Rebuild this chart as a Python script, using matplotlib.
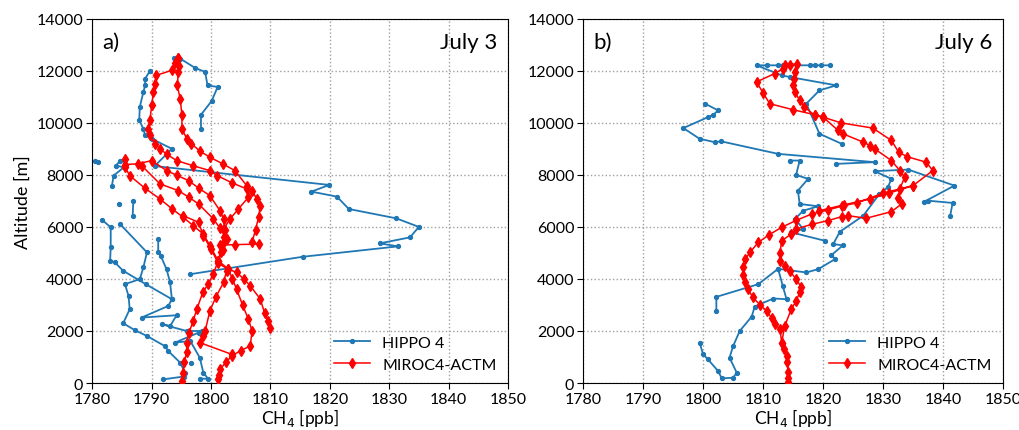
import numpy as np
import matplotlib
matplotlib.use("Agg")
import matplotlib.pyplot as plt

plt.rcParams['font.family'] = ['Lato', 'DejaVu Sans']

nan = np.nan

# ---- July 3 : HIPPO 4 (CH4 ppb, altitude m), segments split by nan
hippo_jul3_ch4 = [
    1793.8, 1794.8, 1797.3, 1799.0, 1799.4, 1801.1, 1800.1, 1798.3, 1798.3, nan,
    1789.7, 1788.9, 1788.9, 1788.6, 1788.0, 1787.9, 1788.6, 1788.9, 1790.0, 1793.4,
    1790.5, 1819.9, 1816.9, 1821.2, 1823.2, 1831.2, 1835.0, 1833.5, 1828.4, 1831.5,
    1815.4, 1796.5, nan,
    1780.4, 1781.0, nan,
    1785.5, 1784.7, 1784.0, 1785.3, 1783.6, 1783.3, nan,
    1786.9, 1786.8, nan,
    1784.5, nan,
    1781.6, 1783.1, 1783.1, 1783.0, 1783.8, 1785.2, 1789.0, 1793.4, 1792.8, 1788.3,
    1794.2, 1793.1, 1791.7, 1795.9, 1798.4, 1797.9, 1793.9, 1796.5, 1798.1, 1798.7,
    1799.5, 1798.1, nan,
    1784.7, 1789.2, 1788.6, 1788.0, 1785.5, 1786.1, 1786.3, 1785.2, 1787.2, 1789.2,
    1792.2, 1792.8, 1794.8, 1795.6, 1795.4, 1791.9, nan,
    1791.1, 1791.1, 1791.5, 1792.5, 1793.1, 1793.4, nan,
    1796.7,
]
hippo_jul3_alt = [
    12500, 12472, 12113, 11959, 11443, 11380, 10841, 10313, 9774, nan,
    11998, 11701, 11443, 11190, 10610, 10094, 9774, 9516, 9390, 9003,
    8340, 7615, 7357, 7165, 6690, 6330, 6000, 5600, 5368, 5253,
    4852, 4184, nan,
    8520, 8510, nan,
    8590, 8552, 8360, 8290, 7974, 7589, nan,
    7010, 6432, nan,
    6883, nan,
    6279, 5985, 5214, 4699, 4636, 4313, 3800, 3222, 2964, 2516,
    2605, 2193, 2258, 2000, 2000, 1936, 1553, 1615, 975, 397,
    166, 166, nan,
    6104, 5022, 4444, 3993, 3800, 3349, 2837, 2297, 2027, 1808,
    1422, 1229, 782, 397, 250, 139, nan,
    5534, 5022, 4900, 4378, 3865, 3222, nan,
    782,
]

# ---- July 3 : MIROC4-ACTM
miroc_jul3_ch4 = [
    1794.5, 1794.6, 1794.5, 1794.3, 1794.8, 1795.1, 1795.1, 1795.9, 1796.7, 1798.2,
    1799.8, 1802.0, 1804.0, 1806.0, 1806.9, 1807.7, 1808.3, 1808.0, 1807.5, 1806.9,
    1808.0, 1804.0, 1801.5, nan,
    1794.5, 1793.9, 1793.4, 1790.8, 1790.5, 1790.3, 1790.0, 1789.7, 1789.4, 1789.7,
    1790.6, 1791.4, 1792.5, 1794.2, 1797.0, 1799.8, 1801.0, 1803.5, 1806.0, 1806.3,
    1804.6, 1803.2, 1802.1, 1802.2, 1802.1, 1801.6, 1801.2, 1800.4, 1799.5, 1798.6,
    1797.6, 1797.0, 1796.3, 1795.9, 1795.9, 1795.5, 1795.3, 1795.1, nan,
    1785.5, 1785.5, 1787.7, 1790.0, 1792.5, 1794.3, 1796.2, 1798.0, 1799.8, 1801.5,
    1802.1, 1802.3, nan,
    1788.3, 1791.4, 1794.5, 1796.2, 1797.9, 1800.4, 1801.5, 1802.6, 1802.0, 1801.2,
    1802.9, 1804.3, 1805.5, 1806.6, 1808.3, 1809.0, 1809.6, 1810.0, nan,
    1785.5, 1786.3, 1788.8, 1791.4, 1793.4, 1795.3, 1797.0, 1798.7, 1799.8, 1801.2,
    nan,
    1801.2, 1801.3, 1801.5, 1802.5, 1803.5, 1805.0, 1806.6, 1806.9, 1806.3, 1805.3,
    1804.3, 1803.6, 1802.9, 1801.2, 1800.0, 1798.7, 1797.9, 1795.3, nan,
    1803.5, 1798.1, 1798.6, 1799.0, 1799.8, 1800.8, 1802.1, 1802.6,
]
miroc_jul3_alt = [
    12500, 12200, 11950, 11443, 10930, 10287, 9774, 9390, 9196, 8900,
    8682, 8420, 8167, 7589, 7396, 7075, 6818, 6371, 5900, 5407,
    5342, 5320, 5300, nan,
    12500, 12300, 12020, 11830, 11500, 11190, 10672, 10094, 9774, 9516,
    9196, 9003, 8800, 8552, 8350, 8167, 7974, 7700, 7460, 7142,
    6690, 6306, 5920, 5600, 5407, 5050, 4700, 4200, 3800, 3480,
    2837, 2400, 1938, 1553, 1200, 800, 400, 73, nan,
    8600, 8400, 8425, 8552, 8167, 7980, 7781, 7480, 7203, 6625,
    6306, 5900, nan,
    8360, 7654, 7396, 7150, 6883, 6306, 5950, 5534, 5100, 4700,
    4380, 4250, 4000, 3736, 3222, 2700, 2400, 2129, nan,
    8300, 7974, 7500, 7075, 6700, 6371, 6048, 5727, 5280, 4700,
    nan,
    140, 320, 520, 800, 1040, 1250, 1422, 2000, 2451, 3000,
    3607, 4000, 4378, 4600, 5150, 5661, 6178, 6432, nan,
    1102, 1553, 1800, 2000, 2771, 3300, 3865, 4300,
]

# ---- July 6 : HIPPO 4
hippo_jul6_ch4 = [
    1799.4, 1800.0, 1800.8, 1802.5, 1803.1, 1805.0, 1805.6, 1804.4, 1805.0, 1806.1,
    1808.1, 1808.6, 1811.7, 1813.9, 1813.3, 1812.5, 1809.2, 1802.2, 1802.2, nan,
    1812.5, 1817.2, 1819.2, 1822.0, 1821.4, 1823.3, 1821.7, 1822.8, 1826.7, 1829.4,
    1830.8, 1831.4, 1828.6, 1834.2, 1841.9, 1836.9, 1837.5, 1841.6, 1841.2, nan,
    1822.2, 1828.6, 1812.5, 1803.0, 1801.9, 1799.4, 1796.7, 1800.8, 1801.7, 1802.5,
    1800.3, nan,
    1820.3, 1814.7, 1816.7, 1815.3, 1816.7, 1819.2, 1816.1, 1815.8, 1817.5, 1815.5,
    1816.1, 1814.4, nan,
    1823.1, 1819.4, 1817.2, 1819.4, 1822.2, 1814.4, 1813.1, 1808.9, 1810.6, 1812.5,
    1813.3, 1814.2, 1815.6, 1817.8, 1818.6, 1819.7, 1821.1,
]
hippo_jul6_alt = [
    1553, 1102, 909, 459, 177, 204, 397, 975, 1422, 2000,
    2555, 2941, 3249, 3222, 3711, 4390, 3800, 3311, 2771, nan,
    4390, 4250, 4378, 4764, 4918, 5290, 5342, 5816, 6432, 7268,
    7527, 7847, 8143, 8205, 7589, 6973, 7010, 6922, 6432, nan,
    8425, 8490, 8809, 9290, 9260, 9390, 9800, 10220, 10313, 10480,
    10740, nan,
    5469, 5792, 5920, 6305, 6625, 6794, 6883, 7395, 7847, 8000,
    8552, 8552, nan,
    9196, 9581, 10737, 11250, 11443, 11764, 11828, 12213, 12213, 12213,
    12213, 12213, 12213, 12213, 12213, 12213, 12213,
]

# ---- July 6 : MIROC4-ACTM
miroc_jul6_ch4 = [
    1814.2, 1814.2, 1814.2, 1814.0, 1813.9, 1813.4, 1813.1, 1812.8, 1812.0, 1811.4,
    1810.6, 1809.5, 1808.3, 1807.5, 1806.9, 1806.6, 1806.6, 1807.0, 1807.8, 1809.2,
    1811.0, 1813.1, 1815.5, 1818.1, 1820.8, 1823.1, 1825.6, 1830.0, 1835.0, 1838.3,
    1837.2, 1834.0, 1832.6, 1831.4, 1828.3, 1823.0, 1820.0, 1818.6, 1816.9, 1816.1,
    1815.3, 1815.0, 1815.1, 1815.3, 1815.6, 1814.5, 1813.6, 1813.3, 1811.9, 1808.9,
    1810.0, 1811.1, 1815.0, 1818.6, 1820.0, 1822.5, 1823.3, 1826.7, 1827.8, 1828.6,
    1831.4, 1832.8, 1833.6, 1832.8, 1832.5, 1833.1, 1831.4, 1827.2, 1824.2, 1823.1,
    1820.8, 1818.1, 1815.5, 1814.7, 1813.1, 1812.8, 1812.8, 1813.6, 1814.4, 1815.5,
    1816.4, 1816.1, 1815.5, 1814.7, 1813.6, 1813.1, nan,
    1819.4, 1823.5, 1827.8, 1831.0, 1835.0,
]
miroc_jul6_alt = [
    50, 200, 410, 800, 1040, 1300, 1553, 2070, 2258, 2500,
    2771, 3000, 3288, 3600, 3865, 4150, 4444, 4750, 5022, 5407,
    5700, 5985, 6250, 6498, 6650, 6800, 6922, 7300, 7589, 8167,
    8490, 8700, 8876, 9323, 9800, 10000, 10220, 10290, 10608, 10865,
    11186, 11443, 11700, 11958, 12278, 12240, 12213, 12085, 11893, 11574,
    11150, 10737, 10506, 10313, 10224, 9709, 9581, 9260, 9130, 9003,
    8552, 8167, 7911, 7461, 7100, 6883, 6588, 6333, 6432, 6395,
    6241, 6100, 5920, 5727, 5469, 5000, 4699, 4506, 4313, 4000,
    3673, 3480, 3150, 2837, 2193, 1553, nan,
    6626, 6850, 7075, 7300, 7589,
]

panels = [
    ("a)", "July 3", hippo_jul3_ch4, hippo_jul3_alt, miroc_jul3_ch4, miroc_jul3_alt),
    ("b)", "July 6", hippo_jul6_ch4, hippo_jul6_alt, miroc_jul6_ch4, miroc_jul6_alt),
]

fig = plt.figure(figsize=(10.2, 4.31), dpi=100)
positions = [[0.0905, 0.109, 0.4075, 0.845], [0.5718, 0.109, 0.4115, 0.845]]

for i, (tag, date, hx, hy, mx, my) in enumerate(panels):
    ax = fig.add_axes(positions[i])
    ax.plot(hx, hy, color="#1f77b4", linewidth=1.3, marker="o", markersize=2.8,
            label="HIPPO 4", zorder=2)
    ax.plot(mx, my, color="red", linewidth=1.1, marker="d", markersize=5.5,
            label="MIROC4-ACTM", zorder=3)
    ax.set_xlim(1780, 1850)
    ax.set_ylim(0, 14000)
    ax.set_xticks(np.arange(1780, 1851, 10))
    ax.set_yticks(np.arange(0, 14001, 2000))
    ax.grid(True, linestyle=":", color="#a0a0a0", linewidth=1.0)
    ax.set_axisbelow(True)
    ax.tick_params(labelsize=11.5, direction="out", length=4, pad=2.5)
    ax.set_xlabel("CH$_4$ [ppb]", fontsize=12.5, labelpad=0)
    if i == 0:
        ax.set_ylabel("Altitude [m]", fontsize=13, labelpad=4)
    ax.text(0.025, 0.965, tag, transform=ax.transAxes, fontsize=16, va="top", ha="left")
    ax.text(0.975, 0.965, date, transform=ax.transAxes, fontsize=16, va="top", ha="right")
    ax.legend(loc="lower right", frameon=False, fontsize=11.5, handlelength=2.2,
              borderaxespad=0.3, labelspacing=0.5)

fig.savefig("out.png", dpi=100)
